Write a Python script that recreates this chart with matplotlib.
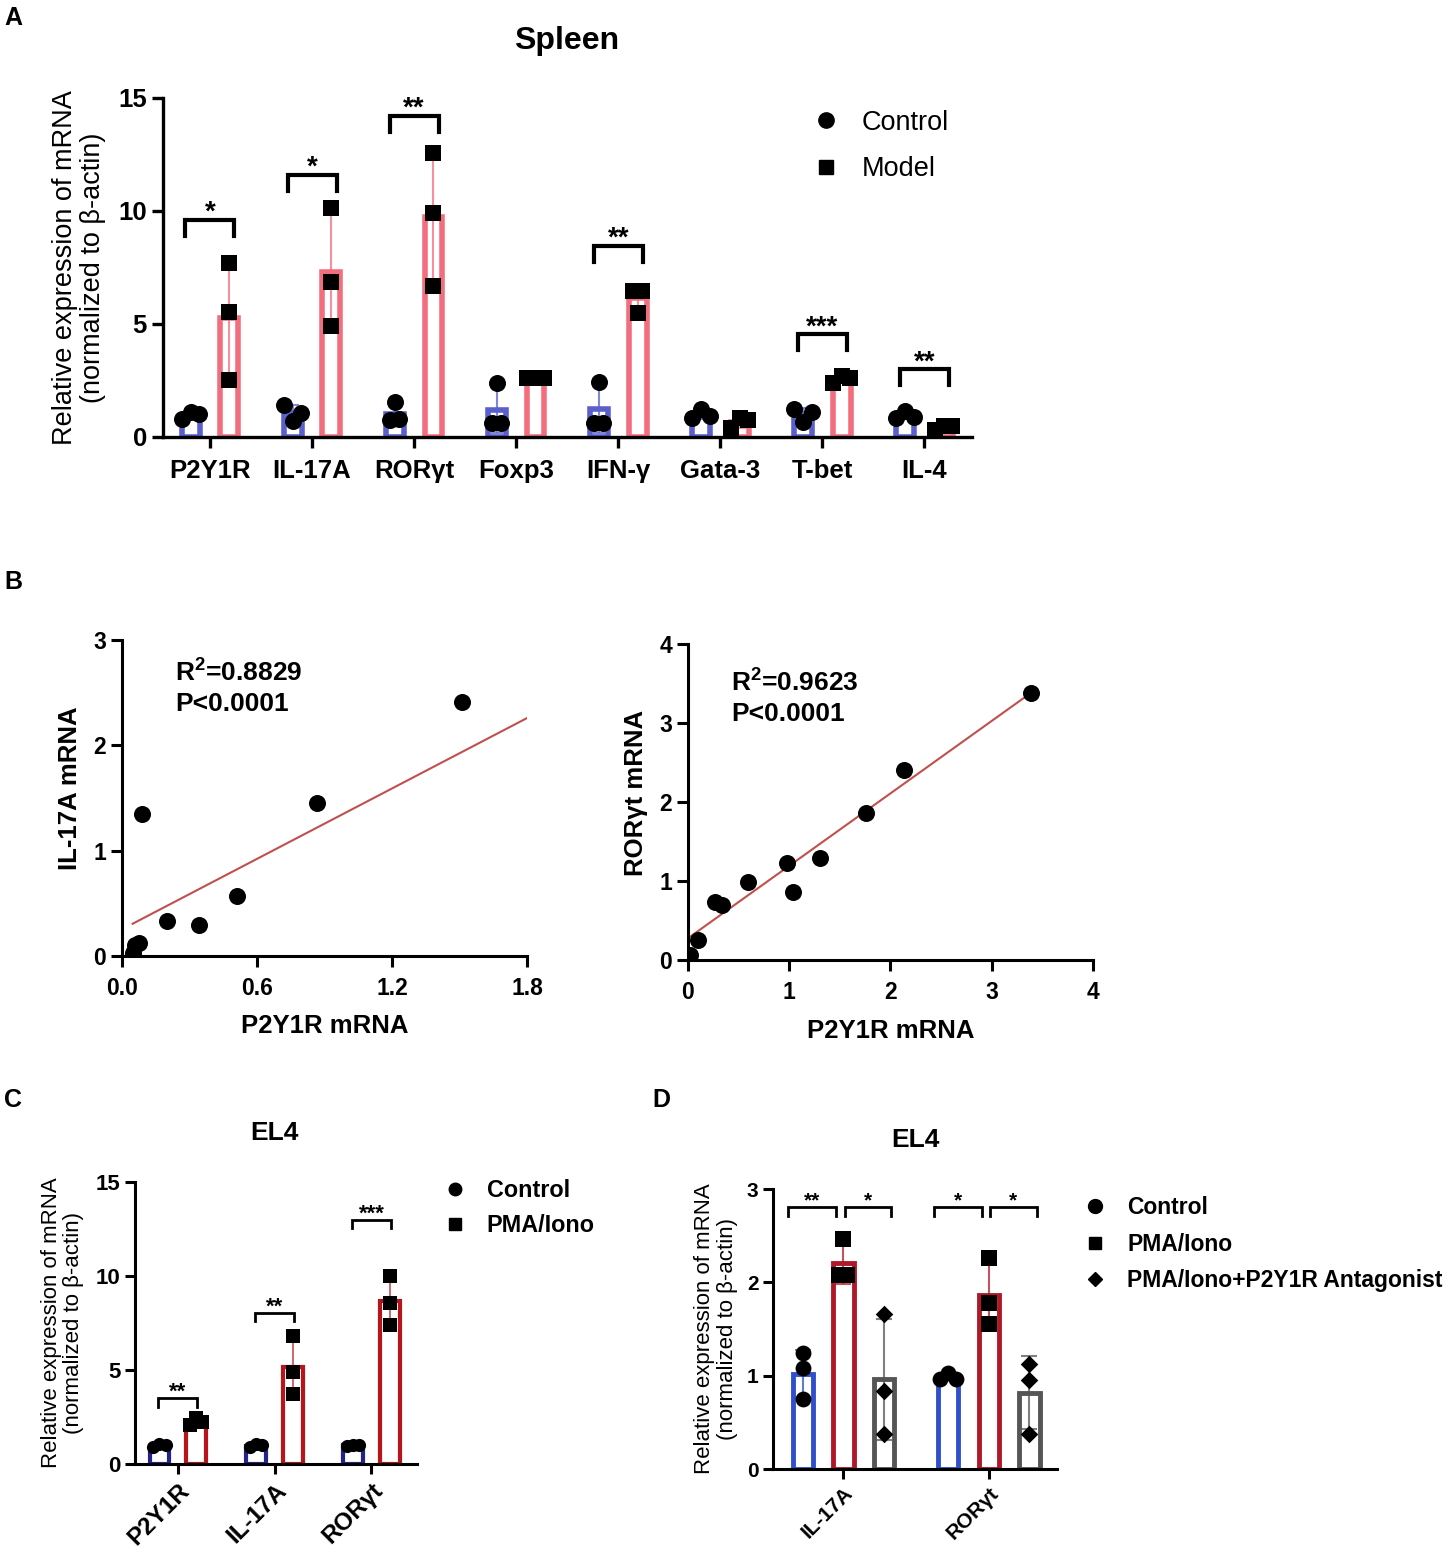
"""Spleen / EL4 qPCR figure (panels A-D)"""

import numpy as np
import matplotlib
matplotlib.use("Agg")
import matplotlib.pyplot as plt
from matplotlib.lines import Line2D

plt.rcParams["font.family"] = ["Liberation Sans", "DejaVu Sans"]
plt.rcParams["mathtext.fontset"] = "custom"
plt.rcParams["mathtext.rm"] = "Liberation Sans"
plt.rcParams["mathtext.bf"] = "Liberation Sans:bold"

# ---- A: spleen ----
spleen_genes = ["P2Y1R", "IL-17A", "RORγt", "Foxp3", "IFN-γ", "Gata-3", "T-bet", "IL-4"]
spleen_control = [
    [0.78, 1.12, 1.0], [1.43, 0.69, 1.06], [0.75, 1.56, 0.78], [0.6, 2.37, 0.63],
    [0.6, 2.45, 0.63], [0.83, 1.22, 0.93], [1.22, 0.68, 1.12], [0.83, 1.16, 0.9],
]
spleen_model = [
    [7.71, 5.51, 2.52], [10.12, 6.87, 4.93], [12.55, 9.9, 6.7], [2.6, 2.62, 2.6],
    [6.47, 5.47, 6.47], [0.38, 0.83, 0.75], [2.4, 2.7, 2.6], [0.31, 0.49, 0.49],
]
spleen_sig = ["*", "*", "**", "", "**", "", "***", "**"]
spleen_sig_y = [9.6, 11.6, 14.2, 0, 8.45, 0, 4.54, 3.0]

# ---- B: correlations ----
il17_x = [1.51, 0.865, 0.09, 0.51, 0.20, 0.34, 0.076, 0.058, 0.047]
il17_y = [2.41, 1.456, 1.35, 0.57, 0.33, 0.29, 0.12, 0.10, 0.03]
il17_fit = (1.114, 0.254)   # slope, intercept
ror_x = [3.385, 2.13, 1.76, 1.30, 0.975, 1.04, 0.59, 0.267, 0.333, 0.10, 0.02]
ror_y = [3.376, 2.40, 1.86, 1.29, 1.23, 0.865, 0.99, 0.74, 0.70, 0.25, 0.06]
ror_fit = (0.917, 0.276)

# ---- C: EL4 ----
el4_genes = ["P2Y1R", "IL-17A", "RORγt"]
el4_control = [[0.9, 1.05, 1.0], [0.9, 1.05, 1.0], [0.95, 1.02, 1.0]]
el4_pma = [[2.07, 2.43, 2.22], [6.8, 4.9, 3.7], [10.0, 8.55, 7.4]]
el4_sig = ["**", "**", "***"]
el4_sig_y = [3.5, 8.05, 13.0]

# ---- D: EL4 + antagonist ----
d_genes = ["IL-17A", "RORγt"]
d_control = [[1.24, 1.08, 0.75], [0.97, 1.03, 0.97]]
d_pma = [[2.08, 2.47, 2.08], [2.26, 1.78, 1.55]]
d_antag = [[1.66, 0.84, 0.38], [1.13, 0.95, 0.38]]
d_sig = [["**", "*"], ["*", "*"]]
d_sig_y = 2.81


def spread(vals, thr, step):
    """重叠的点左右错开（组内按原顺序从左到右）"""
    vals = np.asarray(vals, dtype=float)
    order = np.argsort(vals)
    offs = np.zeros(len(vals))
    groups, cur = [], [order[0]]
    for a, b in zip(order[:-1], order[1:]):
        if vals[b] - vals[a] < thr:
            cur.append(b)
        else:
            groups.append(cur)
            cur = [b]
    groups.append(cur)
    for g in groups:
        g = sorted(g)
        k = len(g)
        for j, idx in enumerate(g):
            offs[idx] = (j - (k - 1) / 2) * step
    return offs


def draw_group(ax, data, off, width, color, marker, ms, lw, thr, step, elw=1.5, cap=4):
    for i, vals in enumerate(data):
        x = i + off
        m = np.mean(vals)
        sd = np.std(vals, ddof=1)
        ax.bar(x, m, width, fill=False, edgecolor=color, linewidth=lw, zorder=2)
        ax.errorbar(x, m, yerr=sd, color=color, alpha=0.75, elinewidth=elw,
                    capsize=cap, capthick=elw, zorder=3)
        ax.scatter(x + spread(vals, thr, step), vals, s=ms, marker=marker,
                   color="black", zorder=4, linewidths=0)


def bracket(ax, x1, x2, y, h, text, fs, lw=2.5, dy=0.0):
    ax.plot([x1, x1, x2, x2], [y - h, y, y, y - h], color="black", lw=lw,
            solid_joinstyle="miter", zorder=5)
    ax.text((x1 + x2) / 2, y + dy, text, ha="center", va="baseline",
            fontsize=fs, fontweight="bold")


def style_axes(ax, lw, tick_len, tick_fs):
    for s in ["top", "right"]:
        ax.spines[s].set_visible(False)
    for s in ["left", "bottom"]:
        ax.spines[s].set_linewidth(lw)
    ax.tick_params(width=lw, length=tick_len, labelsize=tick_fs, direction="out")
    for lab in ax.get_xticklabels() + ax.get_yticklabels():
        lab.set_fontweight("bold")


fig = plt.figure(figsize=(14.53, 15.55), dpi=100)
ylab = "Relative expression of mRNA\n(normalized to β-actin)"

# ---------- A ----------
axA = fig.add_axes([0.1122, 0.719, 0.557, 0.218])
draw_group(axA, spleen_control, -0.19, 0.175, "#5A5FCB", "o", 150, 4, 0.6, 0.085)
draw_group(axA, spleen_model, 0.19, 0.175, "#F26D7D", "s", 130, 4, 0.6, 0.085)
for i, (t, y) in enumerate(zip(spleen_sig, spleen_sig_y)):
    if t:
        bracket(axA, i - 0.24, i + 0.24, y, 0.7, t, 20, lw=3)
axA.set_xlim(-0.46, 7.47)
axA.set_ylim(0, 15)
axA.set_yticks([0, 5, 10, 15])
axA.set_xticks(range(len(spleen_genes)))
axA.set_xticklabels(spleen_genes)
style_axes(axA, 2.4, 8, 18.5)
axA.tick_params(axis="x", pad=8)
axA.set_ylabel(ylab, fontsize=19.5, linespacing=1.1)
axA.yaxis.set_label_coords(-0.07, 0.5)
fig.text(0.39, 0.9736, "Spleen", fontsize=23, fontweight="bold", ha="center", va="center")
axA.legend(handles=[Line2D([], [], ls="", marker="o", color="black", markersize=11),
                    Line2D([], [], ls="", marker="s", color="black", markersize=10)],
           labels=["Control", "Model"], loc="upper left",
           bbox_to_anchor=(0.559, 0.9293), bbox_transform=fig.transFigure,
           frameon=False, fontsize=19.5, handlelength=1, handletextpad=0.83,
           labelspacing=0.74, borderpad=0, borderaxespad=0)


# ---------- B ----------
def corr_panel(rect, xs, ys, fit, xlim, ylim, xticks, xtl, yticks, ylabel, r2, text_xy,
               line_to_edge):
    ax = fig.add_axes(rect)
    ax.scatter(xs, ys, s=150, color="black", zorder=3, linewidths=0)
    k, b = fit
    x0 = min(xs)
    x1 = xlim[1] if line_to_edge else max(xs)
    ax.plot([x0, x1], [k * x0 + b, k * x1 + b], color="#C0504D", lw=1.5, zorder=2)
    ax.set_xlim(*xlim)
    ax.set_ylim(*ylim)
    ax.set_xticks(xticks)
    ax.set_xticklabels(xtl)
    ax.set_yticks(yticks)
    style_axes(ax, 2.2, 8, 16.5)
    ax.tick_params(axis="x", pad=7)
    ax.set_xlabel("P2Y1R mRNA", fontsize=18.5, fontweight="bold")
    ax.set_ylabel(ylabel, fontsize=18.5, fontweight="bold")
    ax.xaxis.set_label_coords(0.5, -0.185)
    ax.yaxis.set_label_coords(-0.1, 0.53)
    tx, ty = text_xy
    ax.text(tx, ty, r"R$^{\mathbf{2}}$=" + r2, transform=ax.transAxes,
            fontsize=19, fontweight="bold", va="baseline")
    ax.text(tx, ty - 0.098, "P<0.0001", transform=ax.transAxes,
            fontsize=19, fontweight="bold", va="baseline")
    return ax


corr_panel([0.084, 0.3852, 0.2787, 0.2032], il17_x, il17_y, il17_fit, (0, 1.8), (0, 3),
           [0, 0.6, 1.2, 1.8], ["0.0", "0.6", "1.2", "1.8"], [0, 1, 2, 3],
           "IL-17A mRNA", "0.8829", (0.131, 0.873), True)
corr_panel([0.4735, 0.3826, 0.2787, 0.2032], ror_x, ror_y, ror_fit, (0, 4), (0, 4),
           [0, 1, 2, 3, 4], ["0", "1", "2", "3", "4"], [0, 1, 2, 3, 4],
           "RORγt mRNA", "0.9623", (0.106, 0.854), False)

# ---------- C ----------
axC = fig.add_axes([0.0929, 0.0585, 0.1941, 0.1814])
draw_group(axC, el4_control, -0.19, 0.2, "#23238F", "o", 90, 3, 0.5, 0.065, elw=1.2, cap=3)
draw_group(axC, el4_pma, 0.19, 0.2, "#B8141C", "s", 90, 3, 0.5, 0.065, elw=1.2, cap=3)
for i, (t, y) in enumerate(zip(el4_sig, el4_sig_y)):
    bracket(axC, i - 0.2, i + 0.2, y, 0.45, t, 16, lw=2)
axC.set_xlim(-0.44, 2.47)
axC.set_ylim(0, 15)
axC.set_yticks([0, 5, 10, 15])
axC.set_xticks(range(3))
axC.set_xticklabels(el4_genes, rotation=45, ha="right", rotation_mode="anchor")
style_axes(axC, 2.2, 7, 16)
for lab in axC.get_xticklabels():
    lab.set_fontsize(17.5)
axC.set_ylabel(ylab, fontsize=16, linespacing=1.1)
axC.yaxis.set_label_coords(-0.18, 0.5)
fig.text(0.189, 0.2714, "EL4", fontsize=19, fontweight="bold", ha="center", va="center")
axC.legend(handles=[Line2D([], [], ls="", marker="o", color="black", markersize=9),
                    Line2D([], [], ls="", marker="s", color="black", markersize=8.5)],
           labels=["Control", "PMA/Iono"], loc="upper left",
           bbox_to_anchor=(0.305, 0.2418), bbox_transform=fig.transFigure,
           frameon=False, prop={"size": 16.8, "weight": "bold"}, handlelength=1,
           handletextpad=0.87, labelspacing=0.51, borderpad=0, borderaxespad=0)

# ---------- D ----------
axD = fig.add_axes([0.532, 0.0553, 0.1955, 0.18])
draw_group(axD, d_control, -0.28, 0.14, "#2F4FCB", "o", 130, 3.5, 0.14, 0.055, elw=1.5, cap=6)
draw_group(axD, d_pma, 0.0, 0.14, "#B0182A", "s", 130, 3.5, 0.14, 0.055, elw=1.5, cap=6)
draw_group(axD, d_antag, 0.28, 0.14, "#555555", "D", 80, 3.5, 0.14, 0.055, elw=1.5, cap=6)
for i in range(len(d_genes)):
    bracket(axD, i - 0.38, i - 0.05, d_sig_y, 0.1, d_sig[i][0], 15, lw=2)
    bracket(axD, i + 0.01, i + 0.33, d_sig_y, 0.1, d_sig[i][1], 15, lw=2)
axD.set_xlim(-0.485, 1.47)
axD.set_ylim(0, 3)
axD.set_yticks([0, 1, 2, 3])
axD.set_xticks(range(2))
axD.set_xticklabels(d_genes, rotation=45, ha="right", rotation_mode="anchor")
style_axes(axD, 2.2, 7, 15)
axD.set_ylabel(ylab, fontsize=16, linespacing=1.1)
axD.yaxis.set_label_coords(-0.123, 0.5)
fig.text(0.6297, 0.2669, "EL4", fontsize=19, fontweight="bold", ha="center", va="center")
axD.legend(handles=[Line2D([], [], ls="", marker="o", color="black", markersize=10),
                    Line2D([], [], ls="", marker="s", color="black", markersize=9),
                    Line2D([], [], ls="", marker="D", color="black", markersize=7)],
           labels=["Control", "PMA/Iono", "PMA/Iono+P2Y1R Antagonist"], loc="upper left",
           bbox_to_anchor=(0.7457, 0.2308), bbox_transform=fig.transFigure,
           frameon=False, prop={"size": 16.5, "weight": "bold"}, handlelength=1,
           handletextpad=0.9, labelspacing=0.59, borderpad=0, borderaxespad=0)

# 面板字母
for lab, x, y in [("A", 0.003, 1 - 18 / 1555), ("B", 0.003, 1 - 582 / 1555),
                  ("C", 0.003, 1 - 1100 / 1555), ("D", 0.449, 1 - 1100 / 1555)]:
    fig.text(x, y, lab, fontsize=18, fontweight="bold", va="center", ha="left")

fig.savefig("out.png", dpi=100)
